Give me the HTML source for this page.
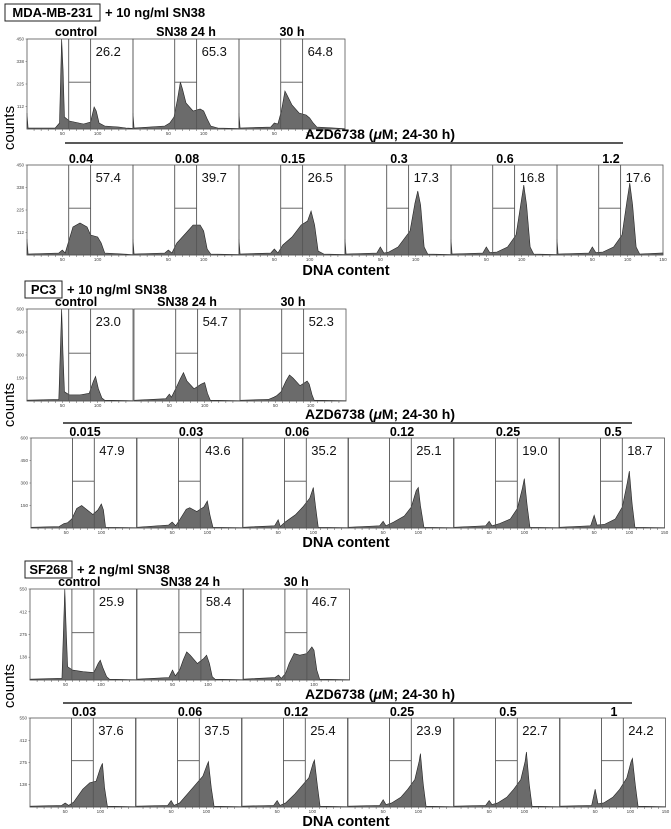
<!DOCTYPE html>
<html><head><meta charset="utf-8"><style>
html,body{margin:0;padding:0;background:#fff;}
svg{display:block;font-family:"Liberation Sans",Arial,sans-serif;}
</style></head><body>
<svg id="fig" width="671" height="829" viewBox="0 0 671 829" xmlns="http://www.w3.org/2000/svg"></svg>
<script>
// ---- data: histogram breakpoints [channel, counts] ----
const mdaTopLabels = ["control","SN38 24 h","30 h"];
const mdaTopPct = ["26.2","65.3","64.8"];
const mdaBotLabels = ["0.04","0.08","0.15","0.3","0.6","1.2"];
const mdaBotPct = ["57.4","39.7","26.5","17.3","16.8","17.6"];
const mdaYTicks = [112,225,338,450];
const mdaHist = [
 [[0,80],[1.5,5],[40,5],[46,30],[49,450],[51,300],[53,60],[60,40],[80,25],[90,35],[95,110],[98,90],[102,30],[110,15],[130,10],[140,5],[150,3]],
 [[0,80],[1.5,5],[45,15],[52,30],[58,60],[63,150],[67,235],[70,200],[75,130],[85,90],[95,100],[100,90],[105,50],[110,15],[120,5],[150,2]],
 [[0,80],[1.5,5],[45,10],[50,30],[55,25],[60,90],[65,190],[68,170],[75,120],[85,80],[95,70],[100,55],[105,30],[110,10],[150,2]],
 [[0,80],[1.5,5],[45,10],[50,25],[54,10],[60,80],[65,140],[75,160],[85,140],[90,100],[100,90],[105,60],[110,10],[150,2]],
 [[0,80],[1.5,5],[45,10],[50,25],[55,10],[62,60],[75,110],[85,150],[95,150],[100,120],[105,30],[110,5],[150,2]],
 [[0,80],[1.5,5],[45,10],[50,30],[55,10],[62,50],[75,90],[88,150],[97,170],[102,220],[107,150],[112,20],[120,5],[150,2]],
 [[0,80],[1.5,5],[45,10],[50,40],[55,10],[62,15],[75,40],[92,120],[99,260],[103,320],[107,250],[112,40],[117,5],[150,2]],
 [[0,80],[1.5,5],[45,10],[50,40],[55,12],[65,15],[80,40],[92,100],[99,260],[103,350],[107,250],[112,40],[117,5],[150,2]],
 [[0,80],[1.5,5],[45,10],[50,40],[55,12],[65,15],[80,40],[92,100],[99,270],[103,360],[107,250],[112,40],[117,5],[150,10]]
];
const pcTopLabels = ["control","SN38 24 h","30 h"];
const pcTopPct = ["23.0","54.7","52.3"];
const pcBotLabels = ["0.015","0.03","0.06","0.12","0.25","0.5"];
const pcBotPct = ["47.9","43.6","35.2","25.1","19.0","18.7"];
const pcYTicks = [150,300,450,600];
const pcHist = [
 [[0,5],[45,10],[49,600],[51,300],[53,60],[60,40],[75,40],[88,50],[94,130],[97,160],[101,80],[106,20],[110,5],[150,2]],
 [[0,5],[45,15],[50,45],[53,25],[60,90],[65,140],[70,185],[75,130],[85,80],[95,110],[100,120],[104,50],[108,5],[150,2]],
 [[0,5],[40,10],[48,25],[52,35],[58,60],[65,130],[70,170],[75,150],[85,100],[95,130],[98,110],[102,40],[105,5],[150,2]],
 [[0,5],[40,10],[47,30],[52,35],[58,60],[65,130],[72,150],[80,120],[88,90],[95,120],[100,160],[103,120],[106,5],[150,2]],
 [[0,5],[45,20],[50,40],[55,15],[60,50],[70,125],[75,135],[85,110],[95,140],[100,180],[104,80],[108,5],[150,2]],
 [[0,5],[45,15],[50,55],[53,10],[60,40],[75,90],[85,140],[95,200],[100,270],[103,150],[107,5],[150,2]],
 [[0,5],[45,15],[50,45],[54,15],[65,40],[80,80],[90,140],[97,250],[100,270],[103,150],[108,5],[150,2]],
 [[0,5],[45,15],[50,45],[54,15],[65,30],[80,60],[90,130],[97,260],[100,330],[104,150],[108,5],[150,2]],
 [[0,5],[45,15],[50,85],[54,20],[65,25],[80,60],[90,140],[97,300],[100,380],[104,160],[108,5],[150,2]]
];
const sfTopLabels = ["control","SN38 24 h","30 h"];
const sfTopPct = ["25.9","58.4","46.7"];
const sfBotLabels = ["0.03","0.06","0.12","0.25","0.5","1"];
const sfBotPct = ["37.6","37.5","25.4","23.9","22.7","24.2"];
const sfYTicks = [138,275,412,550];
const sfHist = [
 [[0,5],[45,10],[49,550],[51,300],[53,80],[60,60],[75,50],[90,45],[96,100],[99,120],[103,70],[108,20],[112,5],[150,2]],
 [[0,5],[45,15],[50,60],[54,25],[60,60],[65,120],[70,170],[75,150],[85,100],[94,130],[98,150],[102,100],[106,20],[110,5],[150,2]],
 [[0,5],[45,15],[50,30],[54,10],[60,40],[65,100],[72,160],[80,150],[90,160],[97,200],[100,180],[104,60],[108,5],[150,2]],
 [[0,5],[45,10],[50,25],[55,10],[62,30],[75,110],[85,150],[94,160],[100,240],[103,270],[106,120],[110,5],[150,2]],
 [[0,5],[45,10],[50,40],[54,10],[62,25],[75,90],[85,140],[95,190],[101,260],[103,280],[107,120],[111,5],[150,2]],
 [[0,5],[45,10],[50,40],[54,10],[62,25],[75,80],[85,130],[95,180],[101,270],[103,290],[107,140],[111,5],[150,2]],
 [[0,5],[45,10],[50,45],[54,15],[62,25],[75,60],[85,110],[95,170],[101,280],[103,330],[107,140],[111,5],[150,2]],
 [[0,5],[45,10],[50,40],[54,15],[62,25],[75,60],[85,110],[95,170],[101,280],[103,340],[107,140],[111,5],[150,2]],
 [[0,5],[45,10],[50,110],[54,20],[62,25],[75,60],[85,110],[95,180],[101,280],[103,300],[107,140],[111,5],[150,2]]
];

const NS="http://www.w3.org/2000/svg";
const svg=document.getElementById('fig');
function mk(tag,attrs,parent,text){const e=document.createElementNS(NS,tag);for(const k in attrs)e.setAttribute(k,attrs[k]);if(text!==undefined)e.textContent=text;(parent||svg).appendChild(e);return e;}

function panel(g,x,w,top,base,ymax,hist,pct,yticks,last,name){
  const pg=mk('g',{},g);
  
  
  const sx=c=>x+c/150*w, sy=v=>base-Math.min(v,ymax)/ymax*(base-top);
  let d='M'+sx(0)+','+base;
  hist.forEach(p=>{d+=' L'+sx(p[0]).toFixed(2)+','+sy(p[1]).toFixed(2);});
  d+=' L'+sx(150)+','+base+' Z';
  const h=mk('path',{d:d,fill:'#6b6b6b',stroke:'#222','stroke-width':0.6},pg);
  
  
  mk('rect',{x:x,y:top,width:w,height:base-top,fill:'none',stroke:'#555','stroke-width':0.8},pg);
  const gl=sx(59),gr=sx(90),gy=base-0.52*(base-top);
  const gate=mk('path',{d:`M${gl},${top} V${base} M${gr},${top} V${base} M${gl},${gy} H${gr}`,stroke:'#555','stroke-width':0.9,fill:'none'},pg);
  
  
  const t=mk('text',{x:gr+5,y:top+17,'font-size':13,fill:'#111'},pg,pct);
  
  
  let tk='';
  for(let c=10;c<150;c+=10)tk+=`M${sx(c)},${base} v2 `;
  mk('path',{d:tk,stroke:'#555','stroke-width':0.5},pg);
  const xt=last?[50,100,150]:[50,100];
  xt.forEach(c=>{const l=mk('text',{x:sx(c),y:base+6,'font-size':4.5,'text-anchor':'middle',fill:'#444'},pg,String(c));
    });
  if(yticks){yticks.forEach(v=>{const l=mk('text',{x:x-3,y:sy(v)+1.5,'font-size':4.5,'text-anchor':'end',fill:'#444'},pg,String(v));
    
    mk('line',{x1:x-1.5,x2:x,y1:sy(v),y2:sy(v),stroke:'#555','stroke-width':0.5},pg);});}
}

function section(cfg){
  const g=mk('g',{});
  
  
  mk('rect',{x:cfg.boxX,y:cfg.boxY,width:cfg.boxW,height:17,fill:'none',stroke:'#222','stroke-width':1},g);
  const ct=mk('text',{x:cfg.boxX+cfg.boxW/2,y:cfg.boxY+13,'font-size':13,'font-weight':'bold','text-anchor':'middle'},g,cfg.cell);
  
  const tr=mk('text',{x:cfg.boxX+cfg.boxW+5,y:cfg.boxY+13,'font-size':13,'font-weight':'bold'},g,cfg.treat);
  
  cfg.topX.forEach((x,i)=>{
    const l=mk('text',{x:x+cfg.w/2-(i==0?4:0),y:cfg.topY-3,'font-size':12.5,'font-weight':'bold','text-anchor':'middle'},g,cfg.topLabels[i]);
    
    panel(g,x,cfg.w,cfg.topY,cfg.topB,cfg.ymax,cfg.hist[i],cfg.topPct[i],i==0?cfg.yticks:null,false,'histogram-panel');
  });
  const ln=mk('line',{x1:cfg.lineX1,x2:cfg.lineX2,y1:cfg.lineY,y2:cfg.lineY,stroke:'#222','stroke-width':1.6},g);
  
  const az=mk('text',{x:380,y:cfg.lineY-4,'font-size':14,'font-weight':'bold','text-anchor':'middle'},g);
  
  mk('tspan',{},az,'AZD6738 (');mk('tspan',{'font-style':'italic'},az,'μ');mk('tspan',{},az,'M; 24-30 h)');
  cfg.botX.forEach((x,i)=>{
    const l=mk('text',{x:x+54,y:cfg.botY-2,'font-size':12.5,'font-weight':'bold','text-anchor':'middle'},g,cfg.botLabels[i]);
    
    panel(g,x,cfg.bw,cfg.botY,cfg.botB,cfg.ymax,cfg.hist[3+i],cfg.botPct[i],i==0?cfg.yticks:null,i==5,'histogram-panel');
  });
  const cy=cfg.countsY;
  const c=mk('text',{x:14,y:cy,'font-size':15,'text-anchor':'middle',transform:`rotate(-90 14 ${cy})`},g,'counts');
  
  const dn=mk('text',{x:346,y:cfg.dnaY,'font-size':14.5,'font-weight':'bold','text-anchor':'middle'},g,'DNA content');
  
}

section({name:'mda-mb-231-section',cell:'MDA-MB-231',treat:'+ 10 ng/ml SN38',boxX:5,boxY:4,boxW:95,
 topX:[27,133,239],w:106,topY:39,topB:129,topLabels:mdaTopLabels,topPct:mdaTopPct,
 botX:[27,133,239,345,451,557],bw:106,botY:165,botB:255,botLabels:mdaBotLabels,botPct:mdaBotPct,
 ymax:450,yticks:mdaYTicks,hist:mdaHist,lineX1:65,lineX2:623,lineY:143,countsY:128,dnaY:275});
section({name:'pc3-section',cell:'PC3',treat:'+ 10 ng/ml SN38',boxX:25,boxY:281,boxW:37,
 topX:[27,134,240],w:106,topY:309,topB:401,topLabels:pcTopLabels,topPct:pcTopPct,
 botX:[31,137,243,348,454,559],bw:105.5,botY:438,botB:528,botLabels:pcBotLabels,botPct:pcBotPct,
 ymax:600,yticks:pcYTicks,hist:pcHist,lineX1:63,lineX2:632,lineY:423,countsY:405,dnaY:547});
section({name:'sf268-section',cell:'SF268',treat:'+ 2 ng/ml SN38',boxX:25,boxY:561,boxW:47,
 topX:[30,137,243],w:106.5,topY:589,topB:680,topLabels:sfTopLabels,topPct:sfTopPct,
 botX:[30,136,242,348,454,560],bw:105.5,botY:718,botB:807,botLabels:sfBotLabels,botPct:sfBotPct,
 ymax:550,yticks:sfYTicks,hist:sfHist,lineX1:63,lineX2:632,lineY:703,countsY:686,dnaY:826});
</script>
</body></html>
